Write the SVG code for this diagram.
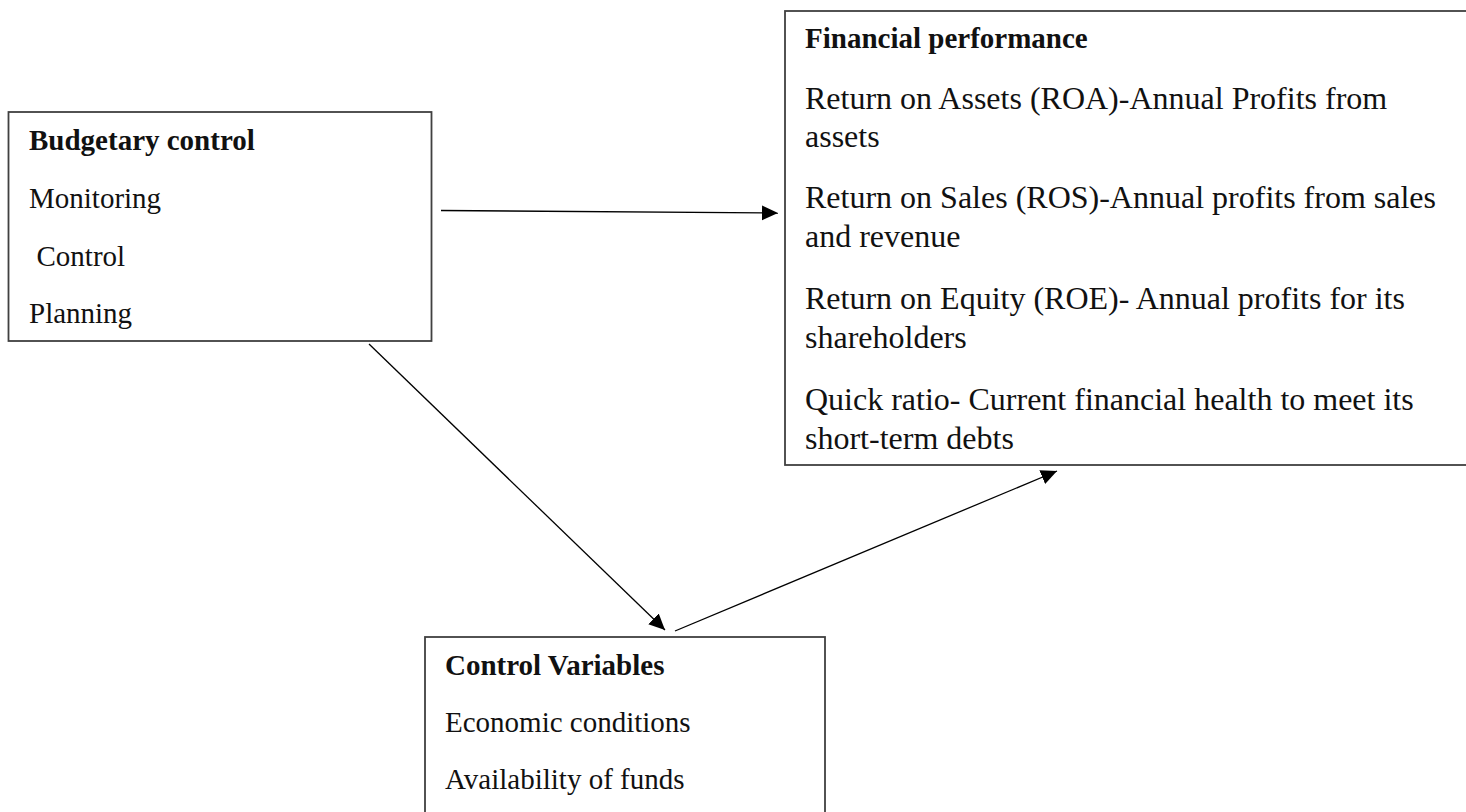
<svg xmlns="http://www.w3.org/2000/svg" width="1466" height="812" viewBox="0 0 1466 812">
<style>
.box{fill:#fff;stroke:#404040;stroke-width:1.8}
.t{font-family:"Liberation Serif","Times New Roman",serif;fill:#111}
.b{font-weight:bold}
.s29{font-size:29px}
.s32{font-size:32px}
.con{stroke:#000;stroke-width:1.3;fill:none}
</style>
<defs>
<marker id="ah" markerUnits="userSpaceOnUse" markerWidth="18" markerHeight="16" refX="16" refY="7.5" orient="auto">
<path d="M0,0 L16,7.5 L0,15 z" fill="#000"/>
</marker>
</defs>
<rect width="1466" height="812" fill="#fff"/>
<g id="budgetary-control">
<rect class="box" x="8.5" y="112" width="423" height="229"/>
<text class="t b s29" x="29" y="150">Budgetary control</text>
<text class="t s29" x="29" y="208">Monitoring</text>
<text class="t s29" x="36.5" y="266">Control</text>
<text class="t s29" x="29" y="323">Planning</text>
</g>
<g id="financial-performance">
<rect class="box" x="785" y="11" width="700" height="454"/>
<text class="t b s29" x="805" y="48">Financial performance</text>
<text class="t s32" x="805" y="109">Return on Assets (ROA)-Annual Profits from</text>
<text class="t s32" x="805" y="147">assets</text>
<text class="t s32" x="805" y="208">Return on Sales (ROS)-Annual profits from sales</text>
<text class="t s32" x="805" y="247">and revenue</text>
<text class="t s32" x="805" y="309">Return on Equity (ROE)- Annual profits for its</text>
<text class="t s32" x="805" y="348">shareholders</text>
<text class="t s32" x="805" y="410">Quick ratio- Current financial health to meet its</text>
<text class="t s32" x="805" y="449">short-term debts</text>
</g>
<g id="control-variables">
<rect class="box" x="425" y="637" width="400" height="200"/>
<text class="t b s29" x="445" y="675">Control Variables</text>
<text class="t s29" x="445" y="732">Economic conditions</text>
<text class="t s29" x="445" y="789">Availability of funds</text>
</g>
<g id="connectors">
<line class="con" x1="441" y1="210.5" x2="778" y2="213" marker-end="url(#ah)"/>
<line class="con" x1="369" y1="344" x2="665" y2="630" marker-end="url(#ah)"/>
<line class="con" x1="675" y1="631" x2="1057" y2="471" marker-end="url(#ah)"/>
</g>
</svg>
